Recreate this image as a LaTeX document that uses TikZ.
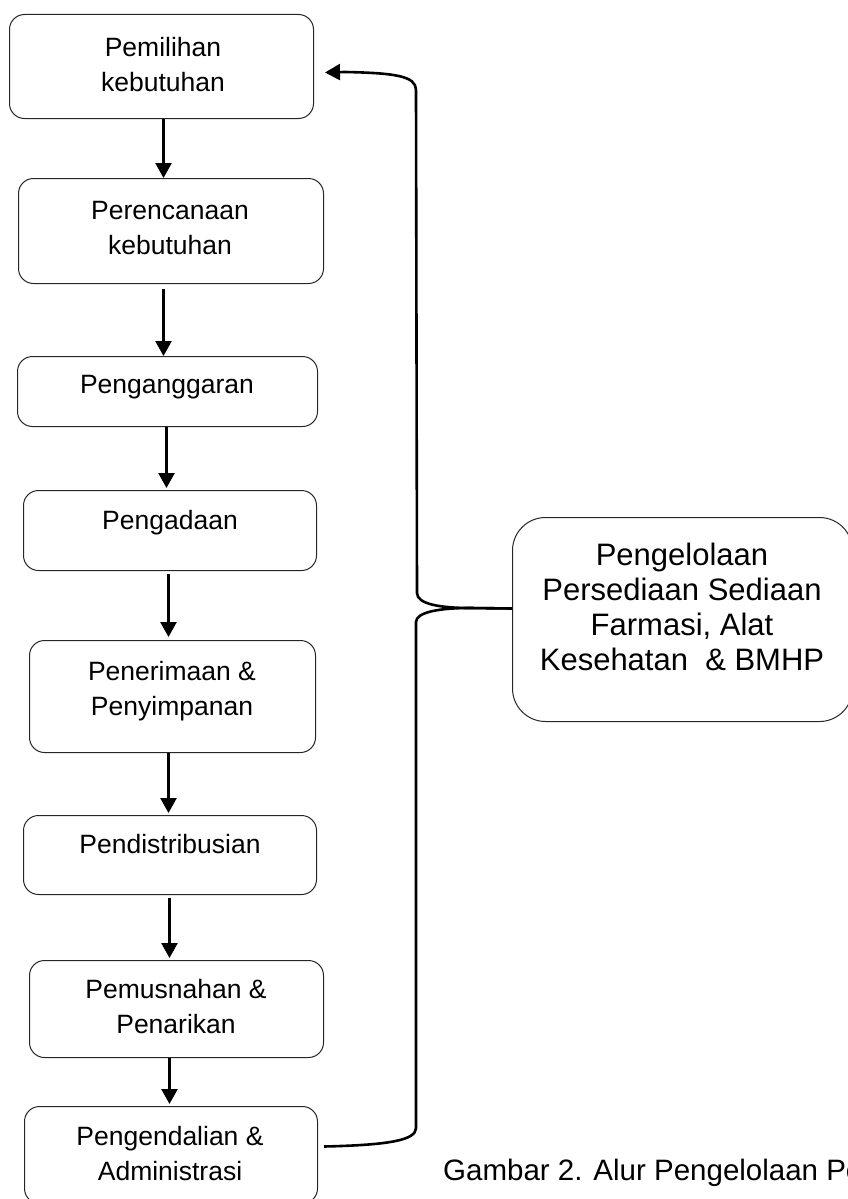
\documentclass[tikz,border=0pt]{standalone}
\usepackage{fontspec}
\setmainfont{Liberation Sans}
\usetikzlibrary{arrows.meta}
\tikzset{
  stepbox/.style={draw=black!85, line width=1pt, rounded corners=15pt, inner sep=0pt, anchor=north west},
  bigbox/.style={draw=black!85, line width=1pt, rounded corners=33pt, inner sep=0pt, anchor=north west},
  txt/.style={inner sep=0pt, align=center, font=\fontsize{26.5}{35}\selectfont},
  bigtxt/.style={inner sep=0pt, align=center, font=\fontsize{31}{35}\selectfont},
  arr/.style={line width=2.6pt, -{Triangle[width=16pt,length=15pt]}},
  link/.style={line width=2.6pt}
}
\begin{document}
\begin{tikzpicture}[x=1pt,y=-1pt]
\useasboundingbox (0,0) rectangle (848,1199);
\clip (0,0) rectangle (848,1199);
% boxes
\node[stepbox, minimum width=304pt, minimum height=104pt] (b1) at (9,14) {};
\node[stepbox, minimum width=305pt, minimum height=105pt] (b2) at (18,178) {};
\node[stepbox, minimum width=300pt, minimum height=70pt] (b3) at (17,356) {};
\node[stepbox, minimum width=293pt, minimum height=80pt] (b4) at (23,490) {};
\node[stepbox, minimum width=286pt, minimum height=112pt] (b5) at (29,640) {};
\node[stepbox, minimum width=293pt, minimum height=79pt] (b6) at (23,815) {};
\node[stepbox, minimum width=294pt, minimum height=97pt] (b7) at (29,960) {};
\node[stepbox, minimum width=293pt, minimum height=97pt] (b8) at (24,1106) {};
\node[bigbox, minimum width=340pt, minimum height=204pt] (pk) at (512,517) {};
% texts
\node[txt] (t1) at (163,66.5) {\strut Pemilihan\\\strut kebutuhan};
\node[txt] (t2) at (170,230) {\strut Perencanaan\\\strut kebutuhan};
\node[txt] (t3) at (167,386) {\strut Penganggaran};
\node[txt] (t4) at (170,522) {\strut Pengadaan};
\node[txt] (t5) at (172,691) {\strut Penerimaan \&\\\strut Penyimpanan};
\node[txt] (t6) at (170,846) {\strut Pendistribusian};
\node[txt] (t7) at (176,1008.5) {\strut Pemusnahan \&\\\strut Penarikan};
\node[txt] (t8) at (170,1155.5) {\strut Pengendalian \&\\\strut Administrasi};
\node[bigtxt] (tk) at (682,610.5) {\strut Pengelolaan\\\strut Persediaan Sediaan\\\strut Farmasi, Alat\\\strut Kesehatan\ \ \& BMHP};
\node[inner sep=0pt, anchor=base west, font=\fontsize{29.5}{35}\selectfont] (cap) at (443,1180) {Gambar 2. Alur Pengelolaan Pe};
% vertical arrows
\draw[arr] ([xshift=2pt]b1.south) -- ([xshift=-7.5pt]b2.north);
\draw[arr] ([xshift=-7.5pt,yshift=-5pt]b2.south) -- ([xshift=-4pt]b3.north);
\draw[arr] ([xshift=-1pt]b3.south) -- ([xshift=-3.5pt,yshift=2pt]b4.north);
\draw[arr] ([xshift=-1.5pt,yshift=-3pt]b4.south) -- ([xshift=-4pt,yshift=3pt]b5.north);
\draw[arr] ([xshift=-4pt]b5.south) -- ([xshift=-1.5pt,yshift=2pt]b6.north);
\draw[arr] ([xshift=-0.5pt,yshift=-3pt]b6.south) -- ([xshift=-7pt,yshift=2pt]b7.north);
\draw[arr] ([xshift=-7pt]b7.south) -- ([xshift=-1.5pt,yshift=2pt]b8.north);
% brace connectors
\coordinate (tip) at ([yshift=11pt]pk.west);
\draw[arr] (tip) -- (470,608) .. controls (440,608) and (417,604) .. (417,593)
  -- (416,90) .. controls (416,76) and (395,73) .. (345,72) -- ([xshift=11pt,yshift=-6pt]b1.east);
\draw[link] ([xshift=6pt,yshift=8.5pt]b8.east) .. controls (390,1145) and (416,1140) .. (416,1128)
  -- (416,622) .. controls (416,612) and (440,608) .. (470,608) -- (tip);
\end{tikzpicture}
\end{document}
